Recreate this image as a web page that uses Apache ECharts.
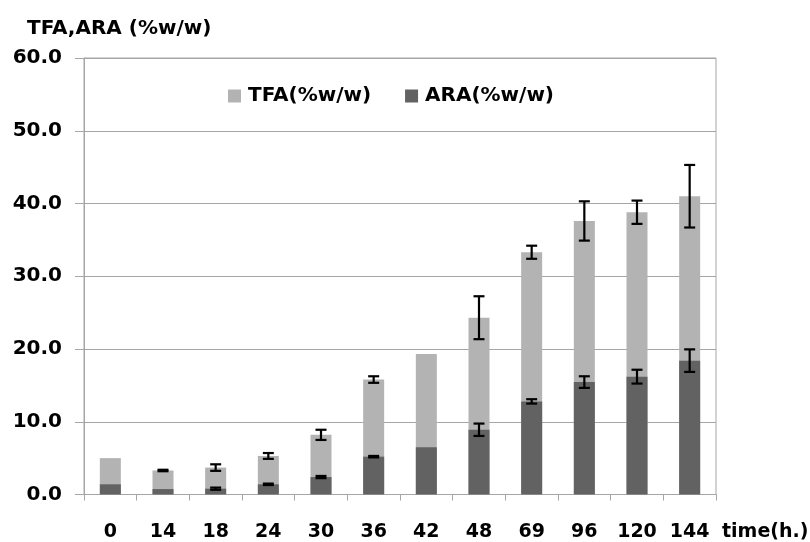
<!DOCTYPE html>
<html>
<head>
<meta charset="utf-8">
<script src="https://cdn.jsdelivr.net/npm/echarts@6/dist/echarts.min.js"></script>
<style>html,body{margin:0;padding:0;background:#fff}#c{width:810px;height:542px}</style>
</head>
<body>
<div id="c"></div>
<script>
const categories = ['0','14','18','24','30','36','42','48','69','96','120','144'];
const tfa    = [5.0, 3.3, 3.7, 5.3, 8.2, 15.8, 19.3, 24.3, 33.3, 37.6, 38.8, 41.0];
const tfaErr = [0, 0.1, 0.45, 0.4, 0.7, 0.45, 0, 2.95, 0.9, 2.7, 1.6, 4.3];
const ara    = [1.4, 0.75, 0.8, 1.4, 2.4, 5.2, 6.5, 8.9, 12.8, 15.45, 16.2, 18.4];
const araErr = [0, 0, 0.15, 0.1, 0.15, 0.1, 0, 0.85, 0.3, 0.8, 0.95, 1.55];
const yTicks = [0, 10, 20, 30, 40, 50, 60];

const FONT = 'DejaVu Sans';

function errData(vals, errs) {
  const out = [];
  vals.forEach((v, i) => { if (errs[i] > 0) out.push([i, v - errs[i], v + errs[i]]); });
  return out;
}
function renderErr(params, api) {
  const x = api.value(0);
  const lo = api.coord([x, api.value(1)]);
  const hi = api.coord([x, api.value(2)]);
  const hw = 5.5;
  const st = { stroke: '#000', lineWidth: 2.2 };
  return { type: 'group', children: [
    { type: 'line', shape: { x1: lo[0], y1: lo[1], x2: hi[0], y2: hi[1] }, style: st },
    { type: 'line', shape: { x1: lo[0]-hw, y1: lo[1], x2: lo[0]+hw, y2: lo[1] }, style: st },
    { type: 'line', shape: { x1: hi[0]-hw, y1: hi[1], x2: hi[0]+hw, y2: hi[1] }, style: st }
  ]};
}

const chart = echarts.init(document.getElementById('c'));
chart.setOption({
  animation: false,
  backgroundColor: '#fff',
  textStyle: { fontFamily: FONT },
  grid: { left: 84, right: 94, top: 58, bottom: 47.5, show: true, borderColor: '#a6a6a6', borderWidth: 1 },
  title: { text: 'TFA,ARA (%w/w)', left: 22, top: 14,
    textStyle: { fontFamily: FONT, fontWeight: 'bold', fontSize: 20, color: '#000' } },
  legend: {
    left: 223, top: 81, itemWidth: 13, itemHeight: 13, itemGap: 34,
    icon: 'rect',
    textStyle: { fontFamily: FONT, fontWeight: 'bold', fontSize: 20, color: '#000', padding: [0,0,0,2] },
    data: ['TFA(%w/w)', 'ARA(%w/w)']
  },
  graphic: [{ type: 'text', left: 722, top: 523,
    style: { text: 'time(h.)', font: 'bold 19px "DejaVu Sans"', fill: '#000' } }],
  xAxis: {
    type: 'category', data: categories,
    axisLine: { lineStyle: { color: '#a6a6a6', width: 1 } },
    axisTick: { show: true, alignWithLabel: false, length: 6, lineStyle: { color: '#a6a6a6' } },
    axisLabel: { margin: 28, fontFamily: FONT, fontWeight: 'bold', fontSize: 19, color: '#000' }
  },
  yAxis: {
    type: 'value', min: 0, max: 60, interval: 10,
    axisLine: { show: true, lineStyle: { color: '#a6a6a6' } },
    axisTick: { show: true, length: 9, lineStyle: { color: '#a6a6a6' } },
    splitLine: { lineStyle: { color: '#a6a6a6', width: 1 } },
    axisLabel: { margin: 22, fontFamily: FONT, fontWeight: 'bold', fontSize: 20, color: '#000',
      formatter: v => yTicks.includes(v) ? v.toFixed(1) : '' }
  },
  series: [
    { name: 'TFA(%w/w)', type: 'bar', data: tfa, barWidth: 21, barGap: '-100%',
      itemStyle: { color: '#b3b3b3' }, z: 2 },
    { name: 'ARA(%w/w)', type: 'bar', data: ara, barWidth: 21, barGap: '-100%',
      itemStyle: { color: '#626262' }, z: 3 },
    { type: 'custom', renderItem: renderErr, data: errData(tfa, tfaErr), z: 10, silent: true },
    { type: 'custom', renderItem: renderErr, data: errData(ara, araErr), z: 10, silent: true }
  ]
});
</script>
</body>
</html>
